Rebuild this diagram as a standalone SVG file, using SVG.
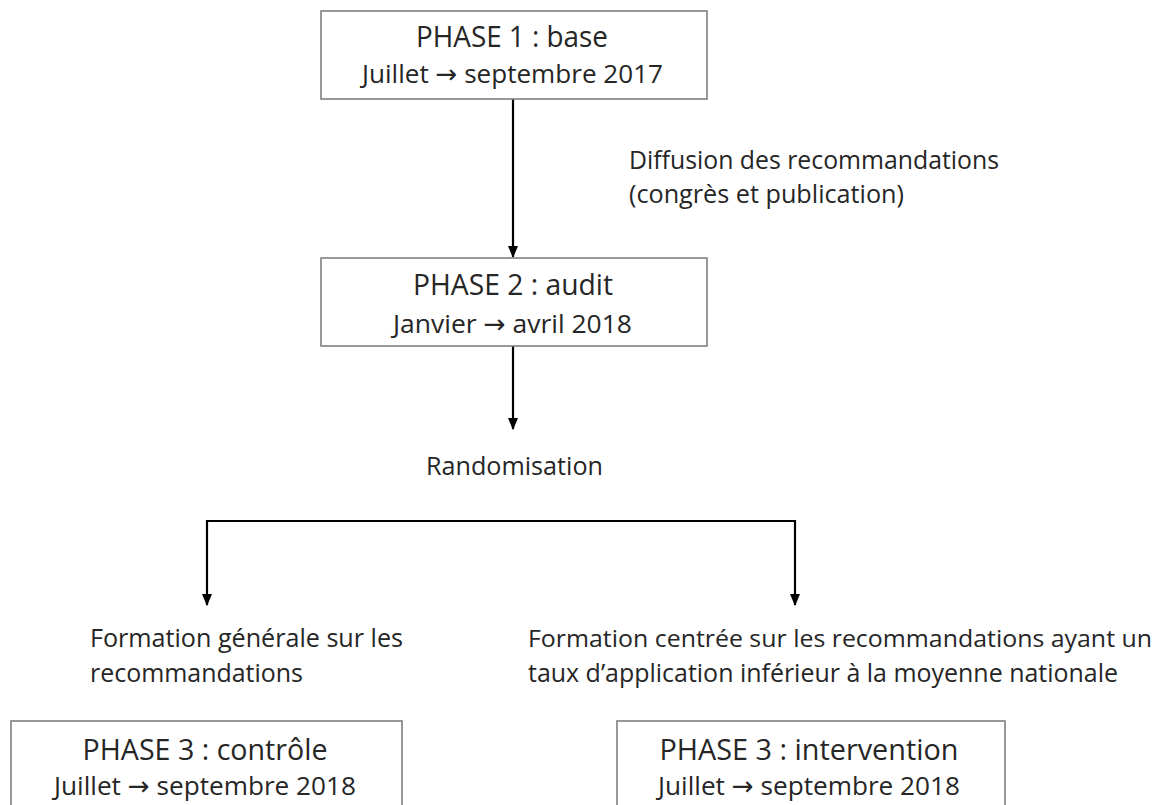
<svg xmlns="http://www.w3.org/2000/svg" width="1164" height="805" viewBox="0 0 1164 805">
<style>
  .box { fill: #ffffff; stroke: #7f7f7f; stroke-width: 1.6; }
  .t { font-family: "Open Sans", "Liberation Sans", "DejaVu Sans", sans-serif; fill: #262626; }
  .c { text-anchor: middle; }
  .ar { font-family: "DejaVu Sans", sans-serif; }
  .conn { fill: none; stroke: #000000; stroke-width: 2.2; }
</style>
<defs>
  <marker id="ah" viewBox="0 0 10 12" refX="5" refY="11" markerWidth="10" markerHeight="12" orient="0" markerUnits="userSpaceOnUse">
    <path d="M0,0 L10,0 L5,12 Z" fill="#000000"/>
  </marker>
</defs>
<rect width="1164" height="805" fill="#ffffff"/>

<g id="connectors">
  <line class="conn" x1="513" y1="99" x2="513" y2="257" marker-end="url(#ah)"/>
  <line class="conn" x1="513" y1="346" x2="513" y2="429" marker-end="url(#ah)"/>
  <polyline class="conn" points="795,600 795,521 207,521 207,600"/>
  <line class="conn" x1="207" y1="598" x2="207" y2="605" marker-end="url(#ah)"/>
  <line class="conn" x1="795" y1="598" x2="795" y2="605" marker-end="url(#ah)"/>
</g>

<g id="phase1">
  <rect class="box" x="321" y="11" width="386" height="88"/>
  <text class="t c" x="512" y="47" font-size="29" textLength="192" lengthAdjust="spacingAndGlyphs">PHASE 1 : base</text>
  <text class="t c" x="512.5" y="83" font-size="26" textLength="301" lengthAdjust="spacingAndGlyphs">Juillet <tspan class="ar">→</tspan> septembre 2017</text>
</g>

<g id="diffusion-label">
  <text class="t" x="629" y="169" font-size="26" textLength="370" lengthAdjust="spacingAndGlyphs">Diffusion des recommandations</text>
  <text class="t" x="629" y="203" font-size="26" textLength="275" lengthAdjust="spacingAndGlyphs">(congrès et publication)</text>
</g>

<g id="phase2">
  <rect class="box" x="321" y="258" width="386" height="88"/>
  <text class="t c" x="513" y="295" font-size="29" textLength="200" lengthAdjust="spacingAndGlyphs">PHASE 2 : audit</text>
  <text class="t c" x="512.5" y="333" font-size="26" textLength="239" lengthAdjust="spacingAndGlyphs">Janvier <tspan class="ar">→</tspan> avril 2018</text>
</g>

<g id="randomisation">
  <text class="t" x="426" y="475" font-size="26" textLength="177" lengthAdjust="spacingAndGlyphs">Randomisation</text>
</g>

<g id="label-controle">
  <text class="t" x="90" y="647" font-size="26" textLength="313" lengthAdjust="spacingAndGlyphs">Formation générale sur les</text>
  <text class="t" x="90" y="682" font-size="26" textLength="213" lengthAdjust="spacingAndGlyphs">recommandations</text>
</g>

<g id="label-intervention">
  <text class="t" x="528" y="647" font-size="24.5" textLength="624" lengthAdjust="spacingAndGlyphs">Formation centrée sur les recommandations ayant un</text>
  <text class="t" x="528" y="682" font-size="25" textLength="590" lengthAdjust="spacingAndGlyphs">taux d’application inférieur à la moyenne nationale</text>
</g>

<g id="phase3-controle">
  <rect class="box" x="11" y="721" width="391" height="110"/>
  <text class="t c" x="205" y="760" font-size="29" textLength="245" lengthAdjust="spacingAndGlyphs">PHASE 3 : contrôle</text>
  <text class="t c" x="205" y="795" font-size="26" textLength="302" lengthAdjust="spacingAndGlyphs">Juillet <tspan class="ar">→</tspan> septembre 2018</text>
</g>

<g id="phase3-intervention">
  <rect class="box" x="617" y="721" width="388" height="110"/>
  <text class="t c" x="809" y="760" font-size="29" textLength="299" lengthAdjust="spacingAndGlyphs">PHASE 3 : intervention</text>
  <text class="t c" x="809" y="795" font-size="26" textLength="302" lengthAdjust="spacingAndGlyphs">Juillet <tspan class="ar">→</tspan> septembre 2018</text>
</g>
</svg>
